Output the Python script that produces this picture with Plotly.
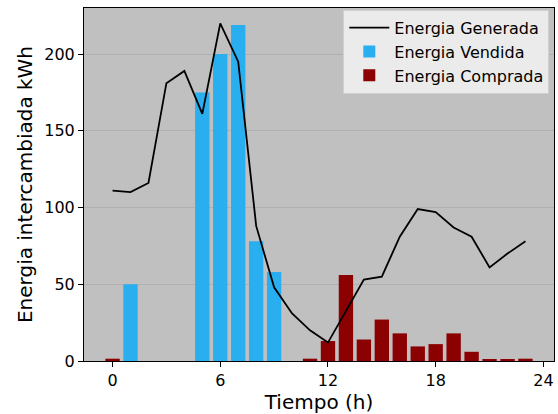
import plotly.graph_objects as go

horas = list(range(24))
generada = [111, 110, 116, 181, 189, 161, 220, 195, 88, 48, 31, 20,
            12, 33, 53, 55, 81, 99, 97, 87, 81, 61, 70, 78]
vendida = [0, 50, 0, 0, 0, 175, 200, 219, 78, 58, 0, 0,
           0, 0, 0, 0, 0, 0, 0, 0, 0, 0, 0, 0]
comprada = [1.5, 0, 0, 0, 0, 0, 0, 0, 0, 0, 0, 1.5,
            13, 56, 14, 27, 18, 9.5, 11, 18, 6, 0.8, 0.8, 1.5]
x_ticks = [0, 6, 12, 18, 24]
y_ticks = [0, 50, 100, 150, 200]

font = "DejaVu Sans"

fig = go.Figure()
fig.add_trace(go.Scatter(x=horas, y=generada, mode="lines", name="Energia Generada",
                         line=dict(color="black", width=1.8)))
fig.add_trace(go.Bar(x=horas, y=vendida, name="Energia Vendida", width=0.8,
                     marker=dict(color="#29aeef", line=dict(width=0))))
fig.add_trace(go.Bar(x=horas, y=comprada, name="Energia Comprada", width=0.8,
                     marker=dict(color="#8b0000", line=dict(width=0))))

fig.update_layout(
    width=558, height=414,
    margin=dict(l=84, r=4, t=8, b=53),
    paper_bgcolor="white", plot_bgcolor="#c0c0c0",
    barmode="overlay",
    font=dict(family=font, size=16, color="black"),
    legend=dict(x=0.99, y=0.995, xanchor="right", yanchor="top",
                bgcolor="rgba(240,240,240,0.9)", bordercolor="#d0d0d0", borderwidth=1,
                font=dict(size=16), tracegroupgap=0, itemwidth=40),
    showlegend=True,
)
fig.update_xaxes(range=[-1.59, 24.59], tickvals=x_ticks, ticks="outside", ticklen=5,
                 tickcolor="black", showgrid=False, zeroline=False,
                 showline=True, mirror=True, linecolor="black", linewidth=1,
                 title=dict(text="Tiempo (h)", font=dict(size=20), standoff=2),
                 tickfont=dict(size=16))
fig.update_yaxes(range=[0, 230], tickvals=y_ticks, ticks="outside", ticklen=5,
                 tickcolor="black", showgrid=True, gridcolor="#b0b0b0", gridwidth=1,
                 zeroline=False, showline=True, mirror=True, linecolor="black", linewidth=1,
                 title=dict(text="Energia intercambiada kWh", font=dict(size=20), standoff=6),
                 tickfont=dict(size=16))

fig.write_html("out.html")
